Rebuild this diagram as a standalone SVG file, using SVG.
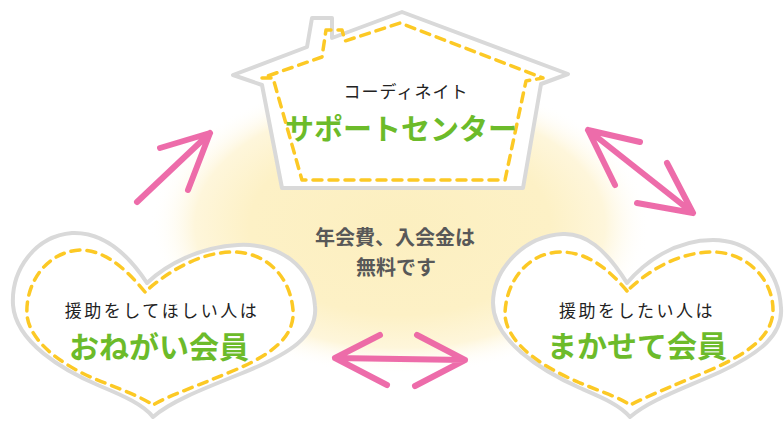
<svg xmlns="http://www.w3.org/2000/svg" width="784" height="421" viewBox="0 0 784 421">
<defs>
<radialGradient id="glowGrad" cx="0.5" cy="0.5" r="0.5">
<stop offset="0" stop-color="#fcefc0"/>
<stop offset="0.6" stop-color="#fdf1c6"/>
<stop offset="0.82" stop-color="#fef6db"/>
<stop offset="1" stop-color="#ffffff" stop-opacity="0"/>
</radialGradient>
<style>
.outline{fill:#ffffff;stroke:#d9d9d9;stroke-width:4;stroke-linejoin:round}
.stitch{fill:none;stroke:#fcc925;stroke-width:3.5;stroke-dasharray:9 7;stroke-linecap:round;stroke-linejoin:round}
.arrow{fill:none;stroke:#eb5ca1;stroke-width:6;stroke-linecap:round;stroke-linejoin:round;opacity:0.9}
.sub{font-family:"Noto Sans CJK JP","Noto Sans",sans-serif;fill:#222222;font-size:17px;text-anchor:middle}
.title{font-family:"Noto Sans CJK JP","Noto Sans",sans-serif;fill:#6cbb2a;font-weight:700;text-anchor:middle}
.note{font-family:"Noto Sans CJK JP","Noto Sans",sans-serif;fill:#585858;font-weight:700;font-size:20px;text-anchor:middle}
</style>
</defs>
<rect width="784" height="421" fill="#ffffff"/>
<ellipse id="glow" cx="400" cy="225" rx="250" ry="150" fill="url(#glowGrad)"/>

<g id="house">
<path class="outline" d="M233,75 L307,47 L312,18 L332,18 L332,38 L402,12 L568,74 L541,84 L523,188 L282,188 L262,85 Z"/>
<path class="stitch" d="M262,78 L273,78 L302,180 L505,180 L526,81 L543,78 L400,23 L345,41 L342,30 L326,30 L322,57 Z"/>
<text class="sub" x="406" y="98" letter-spacing="1">コーディネイト</text>
<text class="title" x="401" y="140" font-size="29">サポートセンター</text>
</g>

<g id="center-note">
<text class="note" x="395" y="245">年会費、入会金は</text>
<text class="note" x="396" y="275">無料です</text>
</g>

<g id="heart-left">
<path class="outline" d="M147,283 C122,245 96,232 72,233 C35,236 11,270 13,305 C16,342 62,370 100,386 C124,396 144,405 153,417 C170,402 200,390 240,374 C290,354 318,336 315,306 C312,266 280,243 238,245 C200,247 167,264 147,283 Z"/>
<path class="stitch" d="M145,292 C122,264 102,250 80,250 C45,252 25,285 27,315 C30,345 70,370 105,383 C125,391 143,398 153,405 C170,395 200,385 235,370 C275,353 295,335 293,310 C290,275 265,252 233,252 C200,252 167,272 145,292 Z"/>
<text class="sub" x="162" y="317" font-size="18" letter-spacing="2.5">援助をしてほしい人は</text>
<text class="title" x="159" y="358" font-size="30">おねがい会員</text>
</g>

<g id="heart-right">
<path class="outline" d="M627,283 C605,248 585,233 563,234 C523,236 493,270 493,303 C493,340 540,370 580,388 C603,398 620,405 630,417 C650,400 680,390 720,372 C760,353 783,335 781,308 C779,268 750,240 713,240 C675,240 645,262 627,283 Z"/>
<path class="stitch" d="M627,291 C605,265 585,252 560,252 C525,253 505,285 505,315 C507,345 545,368 580,383 C605,393 620,398 630,405 C650,395 680,383 715,368 C750,352 773,335 773,310 C773,278 745,252 713,252 C680,252 650,269 627,291 Z"/>
<text class="sub" x="637" y="317" font-size="18" letter-spacing="2.5">援助をしたい人は</text>
<text class="title" x="637" y="357" font-size="30">まかせて会員</text>
</g>

<g id="connectors">
<path class="arrow" d="M137,202 L210,133 M160,148 L210,133 L188,190"/>
<path class="arrow" d="M588,130 L693,213 M640,142 L588,130 L615,185 M637,203 L693,213 L667,163"/>
<path class="arrow" d="M335,358 L465,360 M380,335 L335,358 L387,385 M417,335 L465,360 L415,386"/>
</g>
</svg>
